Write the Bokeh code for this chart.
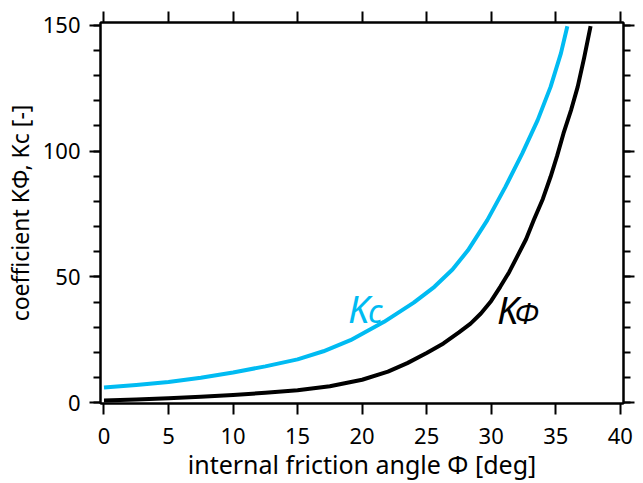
from bokeh.plotting import figure
from bokeh.models import Range1d, LinearAxis, FixedTicker, Label
from bokeh.embed import file_html
from bokeh.resources import INLINE

# Coefficients vs. internal friction angle (deg)
phi_kc = [0, 2.5, 5, 7.5, 10, 12.5, 15, 17, 19.1, 21.7, 24.0, 25.6, 27.0, 28.2,
          29.7, 31.1, 32.4, 33.6, 34.6, 35.4, 35.9]
kc_vals = [6.1, 7.1, 8.3, 10.0, 12.1, 14.5, 17.3, 20.5, 24.9, 32.2, 39.8, 46.1, 53.0, 60.6,
           72.6, 85.8, 99.0, 112.3, 125.5, 138.8, 149.6]

phi_kphi = [0, 2.5, 5, 7.5, 10, 12.5, 15, 17.5, 20, 22, 23.5, 25, 26.3, 27.5, 28.4, 29.2,
            30.0, 30.7, 31.4, 32.0, 32.7, 33.3, 34.0, 34.6, 35.1, 35.6, 36.2, 36.7, 37.2, 37.7]
kphi_vals = [1.0, 1.35, 1.8, 2.4, 3.1, 4.0, 5.0, 6.6, 9.2, 12.4, 15.8, 19.8, 23.6, 28.0, 31.5, 35.5,
             40.5, 46.1, 52.0, 58.0, 65.0, 72.6, 81.0, 89.8, 98.0, 107.0, 116.5, 125.5, 137.0, 149.6]

x_ticks = [0, 5, 10, 15, 20, 25, 30, 35, 40]
y_ticks = [0, 50, 100, 150]
y_minor = [v for v in range(0, 151, 10)]

FONT = "Noto Sans"
CYAN = "#00BBF2"

p = figure(width=643, height=483, output_backend="svg", toolbar_location=None,
           x_range=Range1d(-0.27, 40.25), y_range=Range1d(-0.24, 151.07),
           x_axis_location=None, y_axis_location=None,
           min_border_left=100, min_border_right=20,
           min_border_top=22, min_border_bottom=80)
p.grid.visible = False
p.outline_line_color = "black"
p.outline_line_width = 2
p.background_fill_color = "white"
p.border_fill_color = "white"


def style_axis(ax, ticker, labels=True, label_text="", label_size="22px",
               standoff=4, label_standoff=4):
    ax.ticker = ticker
    ax.axis_line_width = 2
    ax.axis_line_color = "black"
    ax.major_tick_line_width = 2
    ax.minor_tick_line_width = 2
    ax.major_tick_out = 11
    ax.major_tick_in = 0
    ax.minor_tick_out = 7
    ax.minor_tick_in = 0
    ax.major_label_text_font = FONT
    ax.major_label_text_font_size = "22px"
    ax.major_label_text_color = "black"
    ax.major_label_standoff = standoff
    ax.axis_label = label_text
    ax.axis_label_text_font = FONT
    ax.axis_label_text_font_size = label_size
    ax.axis_label_text_font_style = "normal"
    ax.axis_label_text_color = "black"
    ax.axis_label_standoff = label_standoff
    if not labels:
        ax.major_label_text_font_size = "0px"
        ax.major_label_text_alpha = 0


xt = FixedTicker(ticks=x_ticks, minor_ticks=[])
yt = FixedTicker(ticks=y_ticks, minor_ticks=y_minor)

bottom = LinearAxis()
style_axis(bottom, xt, True, "internal friction angle Φ [deg]", "25px",
           standoff=13, label_standoff=0)
p.add_layout(bottom, "below")

top = LinearAxis()
style_axis(top, FixedTicker(ticks=x_ticks, minor_ticks=[]), False)
p.add_layout(top, "above")

left = LinearAxis()
style_axis(left, yt, True, "coefficient KΦ, Kc [-]", "23px", standoff=9, label_standoff=4)
p.add_layout(left, "left")

right = LinearAxis()
style_axis(right, FixedTicker(ticks=y_ticks, minor_ticks=y_minor), False)
p.add_layout(right, "right")

p.line(phi_kc, kc_vals, line_color=CYAN, line_width=4, line_join="round")
p.line(phi_kphi, kphi_vals, line_color="black", line_width=4, line_join="round")

# curve labels: italic K with a smaller italic index
p.add_layout(Label(x=18.9, y=37.5, text="K", text_font=FONT, text_font_style="italic",
                   text_font_size="38px", text_color=CYAN, text_baseline="alphabetic"))
p.add_layout(Label(x=20.45, y=36.6, text="c", text_font=FONT, text_font_style="italic",
                   text_font_size="32px", text_color=CYAN, text_baseline="alphabetic"))
p.add_layout(Label(x=30.45, y=37.3, text="K", text_font=FONT, text_font_style="italic",
                   text_font_size="38px", text_color="black", text_baseline="alphabetic"))
p.add_layout(Label(x=31.8, y=35.8, text="Φ", text_font=FONT, text_font_style="italic",
                   text_font_size="29px", text_color="black", text_baseline="alphabetic"))

open("out.html", "w").write(file_html(p, INLINE))
